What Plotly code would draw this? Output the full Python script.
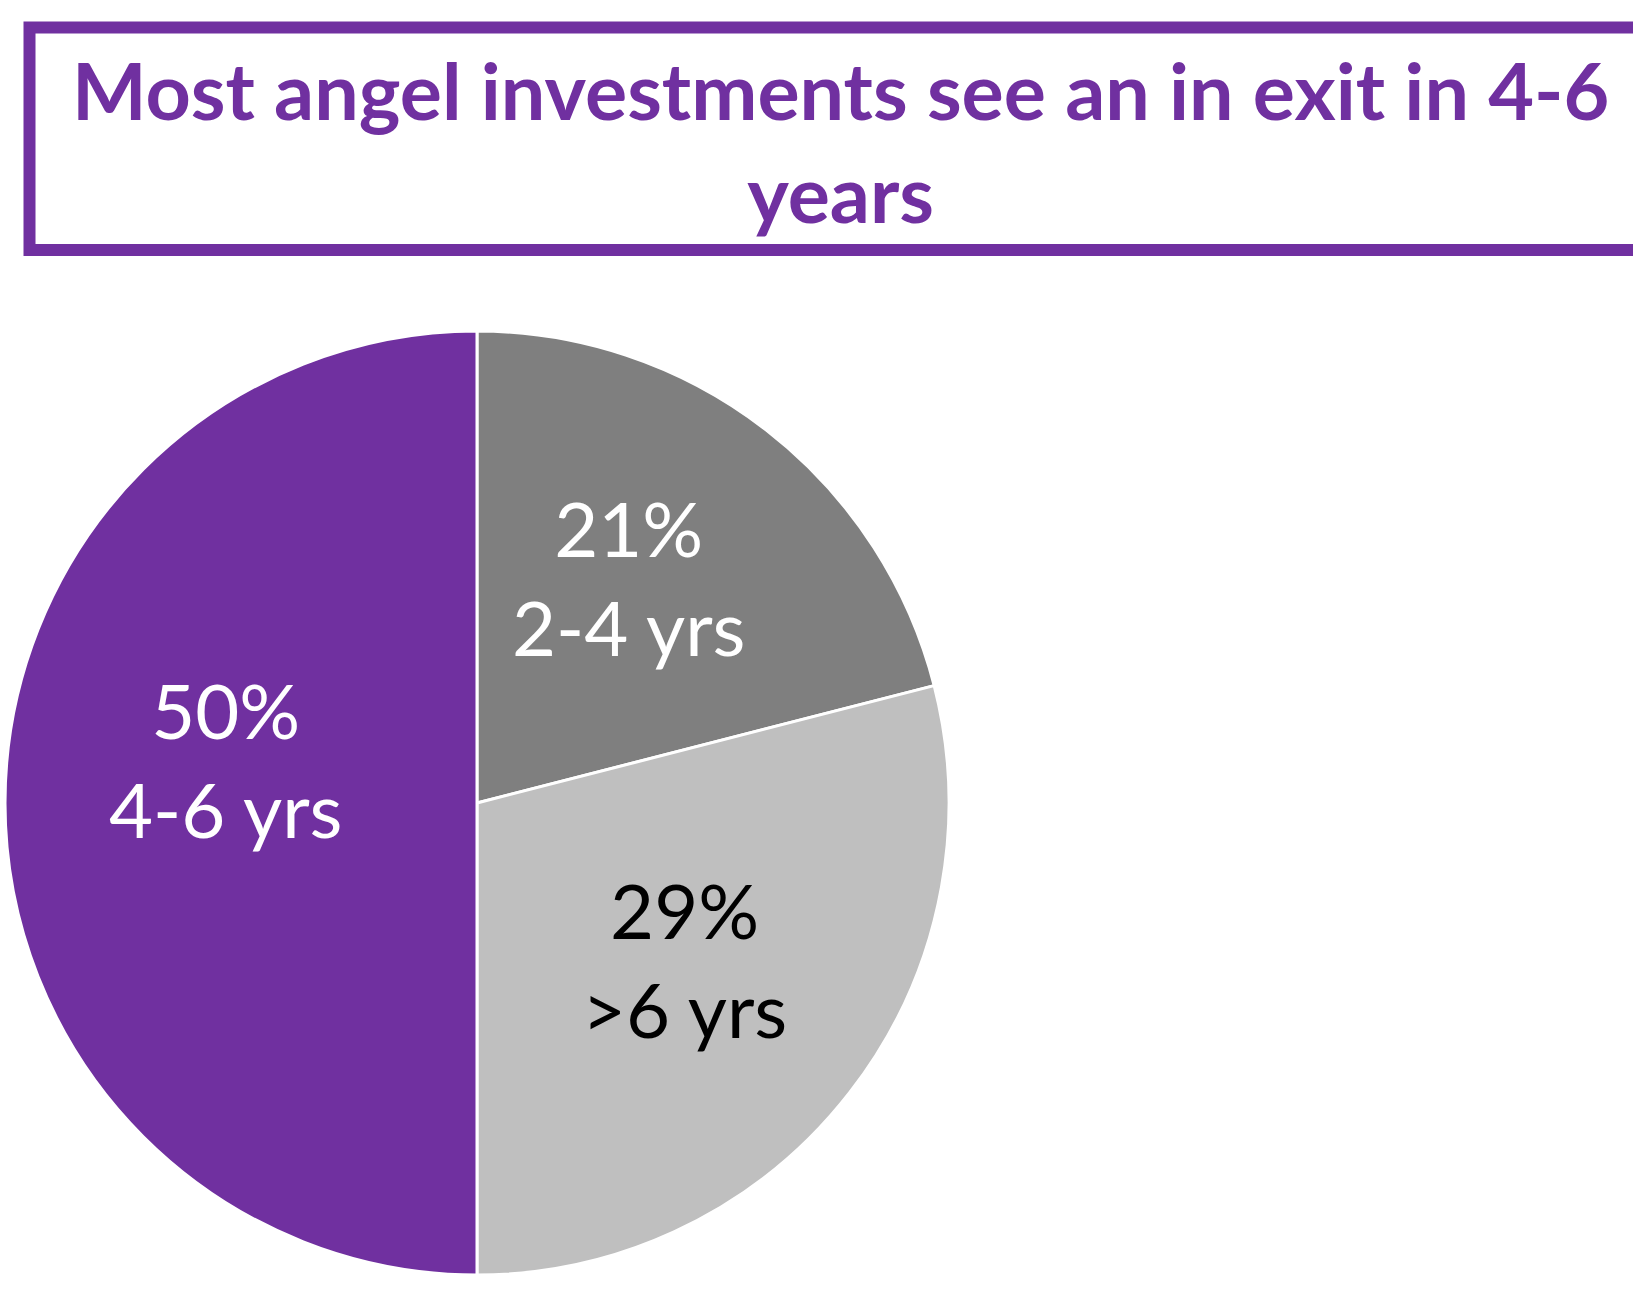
import math
import plotly.graph_objects as go

# ---- data ----
categories = ["2-4 yrs", ">6 yrs", "4-6 yrs"]
shares = [21, 29, 50]
slice_colors = ["#7F7F7F", "#BFBFBF", "#7030A0"]
label_colors = ["white", "black", "white"]
title_text = "Most angel investments see an in exit in 4-6<br>years"

# ---- layout constants (pixels) ----
W, H = 1633, 1290
CX, CY, R = 477, 803, 472
LABEL_FRAC = 0.56
label_xshift = [-9, 0, 11]
label_yshift = [18, 5, 44]
purple = "#7030A0"

fig = go.Figure()
fig.add_trace(go.Pie(
    labels=categories,
    values=shares,
    sort=False,
    direction="clockwise",
    rotation=0,
    marker=dict(colors=slice_colors, line=dict(color="white", width=3)),
    textinfo="none",
    showlegend=False,
    domain=dict(x=[(CX - R) / W, (CX + R) / W], y=[1 - (CY + R) / H, 1 - (CY - R) / H]),
))

# data labels, placed along each slice's mid-angle
total = sum(shares)
cum = 0
annotations = []
for i, (cat, v) in enumerate(zip(categories, shares)):
    mid = (cum + v / 2) / total * 2 * math.pi
    cum += v
    px = CX + 469 * LABEL_FRAC * math.sin(mid)
    py = CY - 469 * LABEL_FRAC * math.cos(mid)
    annotations.append(dict(
        x=px / W, y=1 - py / H, xref="paper", yref="paper",
        text=f"{v}%<br>{cat}", showarrow=False,
        xshift=label_xshift[i], yshift=label_yshift[i],
        font=dict(family="Lato", size=76, color=label_colors[i]),
        xanchor="center", yanchor="middle", align="center",
    ))

annotations.append(dict(
    x=841 / W, y=1 - 141 / H, xref="paper", yref="paper",
    text=f"<b>{title_text}</b>", showarrow=False,
    font=dict(family="Lato", size=79, color=purple),
    xanchor="center", yanchor="middle", align="center",
))

fig.update_layout(
    width=W, height=H,
    margin=dict(l=0, r=0, t=0, b=0),
    paper_bgcolor="white", plot_bgcolor="white",
    annotations=annotations,
    shapes=[dict(
        type="rect", xref="paper", yref="paper",
        x0=29.5 / W, x1=1670 / W, y0=1 - 250 / H, y1=1 - 27.5 / H,
        line=dict(color=purple, width=12), fillcolor="rgba(0,0,0,0)",
    )],
)

fig.write_html("out.html", config={"displayModeBar": False},
               post_script="document.body.style.margin='0';")
